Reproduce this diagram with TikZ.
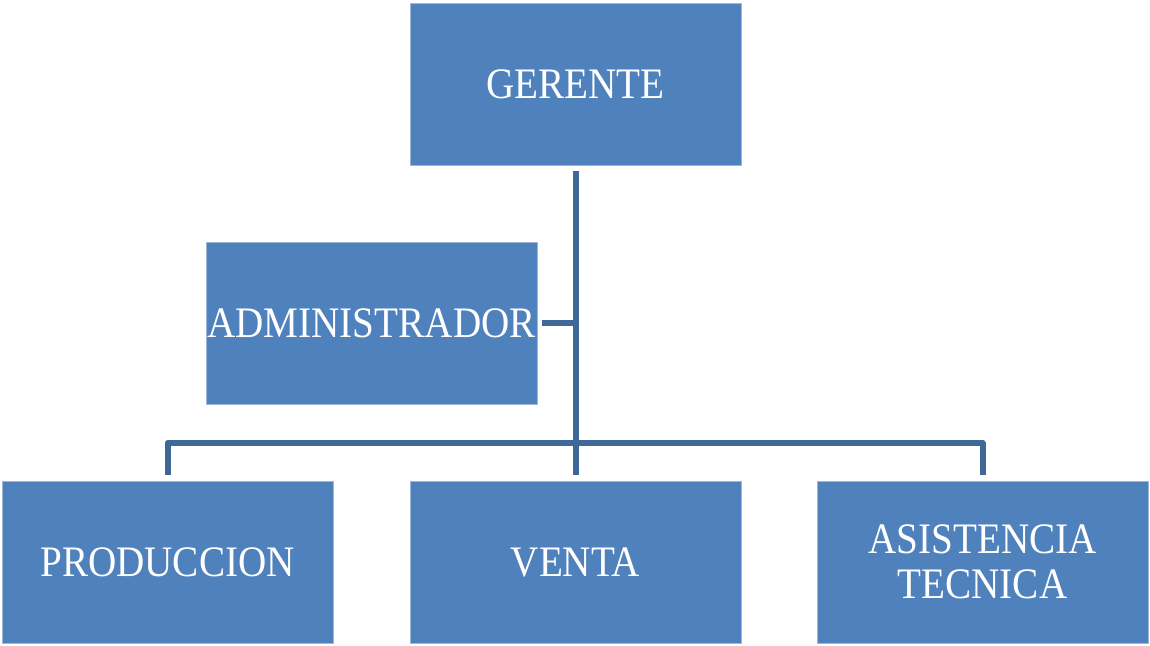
\documentclass[tikz,border=0pt]{standalone}
\usepackage{fontspec}
\setmainfont[FakeStretch=0.9]{Liberation Serif}
\definecolor{boxfill}{HTML}{4F81BD}
\definecolor{boxedge}{HTML}{9DB7D9}
\definecolor{linkcol}{HTML}{3F6797}
\begin{document}
\begin{tikzpicture}[x=1pt,y=-1pt,
  orgbox/.style={draw=boxedge,line width=0.8pt,fill=boxfill,text=white,minimum width=331pt,minimum height=162pt,inner sep=0pt,align=center,font=\fontsize{43.5}{45}\selectfont},
  link/.style={draw=linkcol,line width=6pt,line join=round}]
\useasboundingbox (0,0) rectangle (1150,645);
\node[orgbox] (ger) at (575.5,84) {GERENTE};
\node[orgbox] (adm) at (371.5,323) {ADMINISTRADOR};
\node[orgbox] (pro) at (167.5,562) {PRODUCCION};
\node[orgbox] (ven) at (575.5,562) {VENTA};
\node[orgbox] (asi) at (982.5,562) {ASISTENCIA\\TECNICA};
\coordinate (top) at (575.5,171);
\coordinate (mid) at (575.5,323);
\coordinate (bar) at (575.5,443);
\coordinate (pl) at (167.5,443);
\coordinate (pr) at (982.5,443);
\coordinate (pe) at (167.5,475);
\coordinate (ve) at (575.5,475);
\coordinate (ae) at (982.5,475);
\coordinate (am) at (542,323);
\draw[link] (top) -- (ve);
\draw[link] (am) -- (mid);
\draw[link] (pe) -- (pl) -- (pr) -- (ae);
\end{tikzpicture}
\end{document}
